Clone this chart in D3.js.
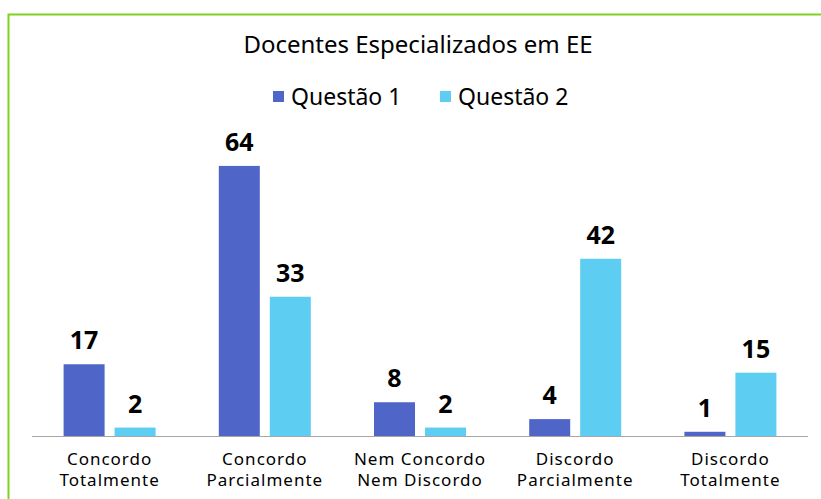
<!DOCTYPE html>
<html>
<head>
<meta charset="utf-8">
<script src="https://cdn.jsdelivr.net/npm/d3@7"></script>
<style>
  body { margin: 0; background: #fff; }
  svg { display: block; font-family: "Noto Sans", "DejaVu Sans", sans-serif; }
</style>
</head>
<body>
<div id="chart"></div>
<script>
var w = 821, h = 499;

var categories = [["Concordo", "Totalmente"], ["Concordo", "Parcialmente"], ["Nem Concordo", "Nem Discordo"], ["Discordo", "Parcialmente"], ["Discordo", "Totalmente"]];
var series = ["Questão 1", "Questão 2"];
var q1 = [17, 64, 8, 4, 1];
var q2 = [2, 33, 2, 42, 15];
var colors = ["#4f66c8", "#5dcdf1"];

var svg = d3.select("#chart").append("svg")
    .attr("width", w)
    .attr("height", h);

// green frame, runs off the right and bottom of the picture
svg.append("rect")
    .attr("x", 8.5).attr("y", 14.5)
    .attr("width", w + 20).attr("height", h + 20)
    .attr("fill", "none")
    .attr("stroke", "#7ed321")
    .attr("stroke-width", 2);

var left = 32, right = 808, base = 436;

var x0 = d3.scaleBand().domain(d3.range(categories.length)).range([left, right]);
var x1 = d3.scaleBand().domain([0, 1]).range([0, 92]).paddingInner(0.196);
var y = d3.scaleLinear().domain([0, 70]).range([base, base - 70 * 4.22]);

svg.append("text")
    .attr("x", 418).attr("y", 53)
    .attr("text-anchor", "middle")
    .attr("font-size", 24)
    .attr("fill", "#000")
    .text("Docentes Especializados em EE");

// legend
var legend = svg.append("g");
var lx = [273, 440];
series.forEach(function(s, i) {
    legend.append("rect")
        .attr("x", lx[i]).attr("y", 91)
        .attr("width", 11).attr("height", 11)
        .attr("fill", colors[i]);
    legend.append("text")
        .attr("x", lx[i] + 18).attr("y", 105)
        .attr("font-size", 23)
        .attr("fill", "#000")
        .text(s);
});

var rows = categories.map(function(c, i) {
    return { i: i, vals: [q1[i], q2[i]] };
});

var groups = svg.selectAll("g.cat")
    .data(rows)
    .enter()
    .append("g")
    .attr("class", "cat")
    .attr("transform", function(d) {
        return "translate(" + (x0(d.i) + x0.bandwidth() / 2 - 46) + ",0)";
    });

groups.selectAll("rect")
    .data(function(d) { return d.vals; })
    .enter()
    .append("rect")
    .attr("x", function(d, j) { return x1(j); })
    .attr("y", function(d) { return y(d); })
    .attr("width", x1.bandwidth())
    .attr("height", function(d) { return base - y(d); })
    .attr("fill", function(d, j) { return colors[j]; });

groups.selectAll("text.val")
    .data(function(d) { return d.vals; })
    .enter()
    .append("text")
    .attr("class", "val")
    .attr("x", function(d, j) { return x1(j) + x1.bandwidth() / 2; })
    .attr("y", function(d) { return y(d) - 15; })
    .attr("text-anchor", "middle")
    .attr("font-size", 25)
    .attr("font-weight", "bold")
    .attr("fill", "#000")
    .text(function(d) { return d; });

// axis line
svg.append("line")
    .attr("x1", left).attr("x2", right)
    .attr("y1", base + 0.5).attr("y2", base + 0.5)
    .attr("stroke", "#a6a6a6");

svg.selectAll("text.cat")
    .data(categories)
    .enter()
    .append("text")
    .attr("class", "cat")
    .attr("text-anchor", "middle")
    .attr("font-size", 17)
    .attr("letter-spacing", 1)
    .attr("fill", "#000")
    .each(function(d, i) {
        var t = d3.select(this);
        d.forEach(function(line, k) {
            t.append("tspan")
                .attr("x", x0(i) + x0.bandwidth() / 2)
                .attr("y", 465 + k * 20.7)
                .text(line);
        });
    });
</script>
</body>
</html>
